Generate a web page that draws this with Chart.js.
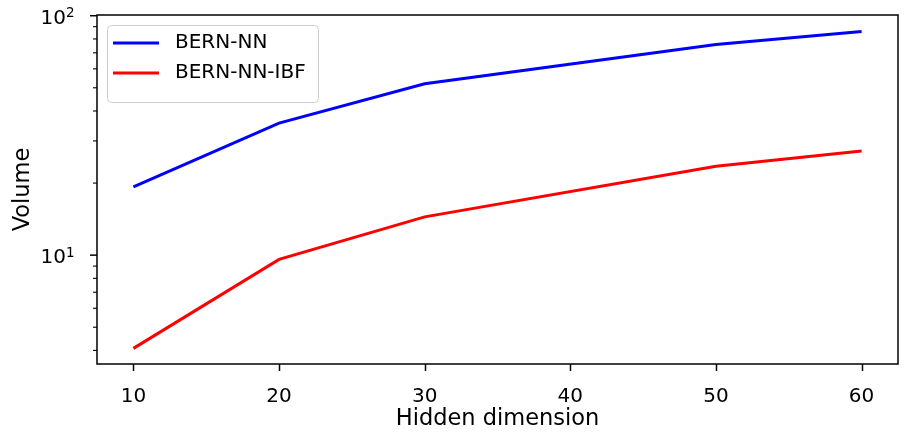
<!DOCTYPE html>
<html>
<head>
<meta charset="utf-8">
<script src="https://cdn.jsdelivr.net/npm/chart.js@4"></script>
<style>
  body { margin: 0; background: #fff; }
  #wrap { width: 904px; height: 435px; }
</style>
</head>
<body>
<div id="wrap"><canvas id="volChart" width="904" height="435"></canvas></div>
<script>
(function(){
	'use strict';

	// hidden dimension vs volume, log-scale y
	const hiddenDims = [10, 20, 30, 50, 60];
	const bernNN = [19.3, 35.6, 52.0, 75.9, 86.0];
	const bernNNIBF = [4.08, 9.6, 14.45, 23.5, 27.2];
	const xTicks = [10, 20, 30, 40, 50, 60];
	const yDecades = [1, 2];   // labelled as 10^1, 10^2

	const FONT = 'DejaVu Sans';
	const TICK_PX = 20;

	const toPoints = ys => hiddenDims.map((x, i) => ({ x: x, y: ys[i] }));

	// y tick values: 4..9, 10..90, 100
	const yTickValues = [];
	for (let v = 4; v < 10; v++) yTickValues.push(v);
	for (let v = 10; v < 100; v += 10) yTickValues.push(v);
	yTickValues.push(100);

	// frame, tick marks, math-style y labels and legend box
	const decor = {
		id: 'decor',
		afterDraw(chart) {
			const ctx = chart.ctx;
			const a = chart.chartArea;
			const xs = chart.scales.x, ys = chart.scales.y;
			ctx.save();
			ctx.strokeStyle = '#000';
			ctx.lineWidth = 1.5;

			// x ticks
			xTicks.forEach(v => {
				const px = Math.round(xs.getPixelForValue(v)) + 0.5;
				ctx.beginPath(); ctx.moveTo(px, a.bottom); ctx.lineTo(px, a.bottom + 7); ctx.stroke();
			});
			// y ticks, major longer than minor
			yTickValues.forEach(v => {
				const py = ys.getPixelForValue(v);
				const major = (v === 10 || v === 100);
				ctx.lineWidth = major ? 1.5 : 1.1;
				ctx.beginPath(); ctx.moveTo(a.left, py); ctx.lineTo(a.left - (major ? 7 : 4), py); ctx.stroke();
			});

			// y labels 10^n
			ctx.fillStyle = '#000';
			ctx.textBaseline = 'alphabetic';
			yDecades.forEach(p => {
				const py = ys.getPixelForValue(Math.pow(10, p));
				ctx.font = '13.5px "' + FONT + '"';
				ctx.textAlign = 'left';
				ctx.fillText(String(p), 66, py + 1.5);
				ctx.font = TICK_PX + 'px "' + FONT + '"';
				ctx.textAlign = 'right';
				ctx.fillText('10', 66, py + 8);
			});

			// legend
			const lx = 107, ly = 25, lw = 211, lh = 77;
			ctx.beginPath();
			ctx.roundRect(lx + 0.5, ly + 0.5, lw, lh, 4);
			ctx.fillStyle = 'rgba(255,255,255,0.8)';
			ctx.fill();
			ctx.strokeStyle = '#cccccc';
			ctx.lineWidth = 1;
			ctx.stroke();
			chart.data.datasets.forEach((ds, i) => {
				const ry = 43 + i * 30;
				ctx.strokeStyle = ds.borderColor;
				ctx.lineWidth = 3;
				ctx.beginPath(); ctx.moveTo(113, ry); ctx.lineTo(159, ry); ctx.stroke();
				ctx.fillStyle = '#000';
				ctx.font = TICK_PX + 'px "' + FONT + '"';
				ctx.textAlign = 'left';
				ctx.textBaseline = 'middle';
				ctx.fillText(ds.label, 175, ry);
			});

			// full box frame
			ctx.strokeStyle = '#000';
			ctx.lineWidth = 1.5;
			ctx.strokeRect(a.left, a.top, a.right - a.left, a.bottom - a.top);
			ctx.restore();
		}
	};

	const el = document.getElementById('volChart');
	new Chart(el.getContext('2d'), {
		type: 'line',
		data: {
			datasets: [
				{ label: 'BERN-NN', data: toPoints(bernNN), borderColor: '#0000ff', borderWidth: 3, pointRadius: 0, tension: 0, fill: false },
				{ label: 'BERN-NN-IBF', data: toPoints(bernNNIBF), borderColor: '#ff0000', borderWidth: 3, pointRadius: 0, tension: 0, fill: false }
			]
		},
		options: {
			responsive: false,
			animation: false,
			devicePixelRatio: 1,
			layout: { padding: { top: 15, right: 6, left: 0, bottom: 0 } },
			plugins: { legend: { display: false }, tooltip: { enabled: false } },
			scales: {
				x: {
					type: 'linear',
					min: 7.5,
					max: 62.5,
					afterBuildTicks: s => { s.ticks = xTicks.map(v => ({ value: v })); },
					afterFit: s => { s.height = 71; },
					grid: { display: false },
					border: { display: false },
					ticks: { color: '#000', font: { family: FONT, size: TICK_PX }, padding: 13, maxRotation: 0 },
					title: { display: true, text: 'Hidden dimension', color: '#000', font: { family: FONT, size: 22.5 }, padding: { top: 0, bottom: 2 } }
				},
				y: {
					type: 'logarithmic',
					min: 3.51,
					max: 100.7,
					afterBuildTicks: s => { s.ticks = yTickValues.map(v => ({ value: v })); },
					afterFit: s => { s.width = 97; },
					grid: { display: false },
					border: { display: false },
					ticks: { display: false },
					title: { display: true, text: 'Volume', color: '#000', font: { family: FONT, size: 22.5 }, padding: { top: 10, bottom: 0 } }
				}
			}
		},
		plugins: [decor]
	});
})();
</script>
</body>
</html>
